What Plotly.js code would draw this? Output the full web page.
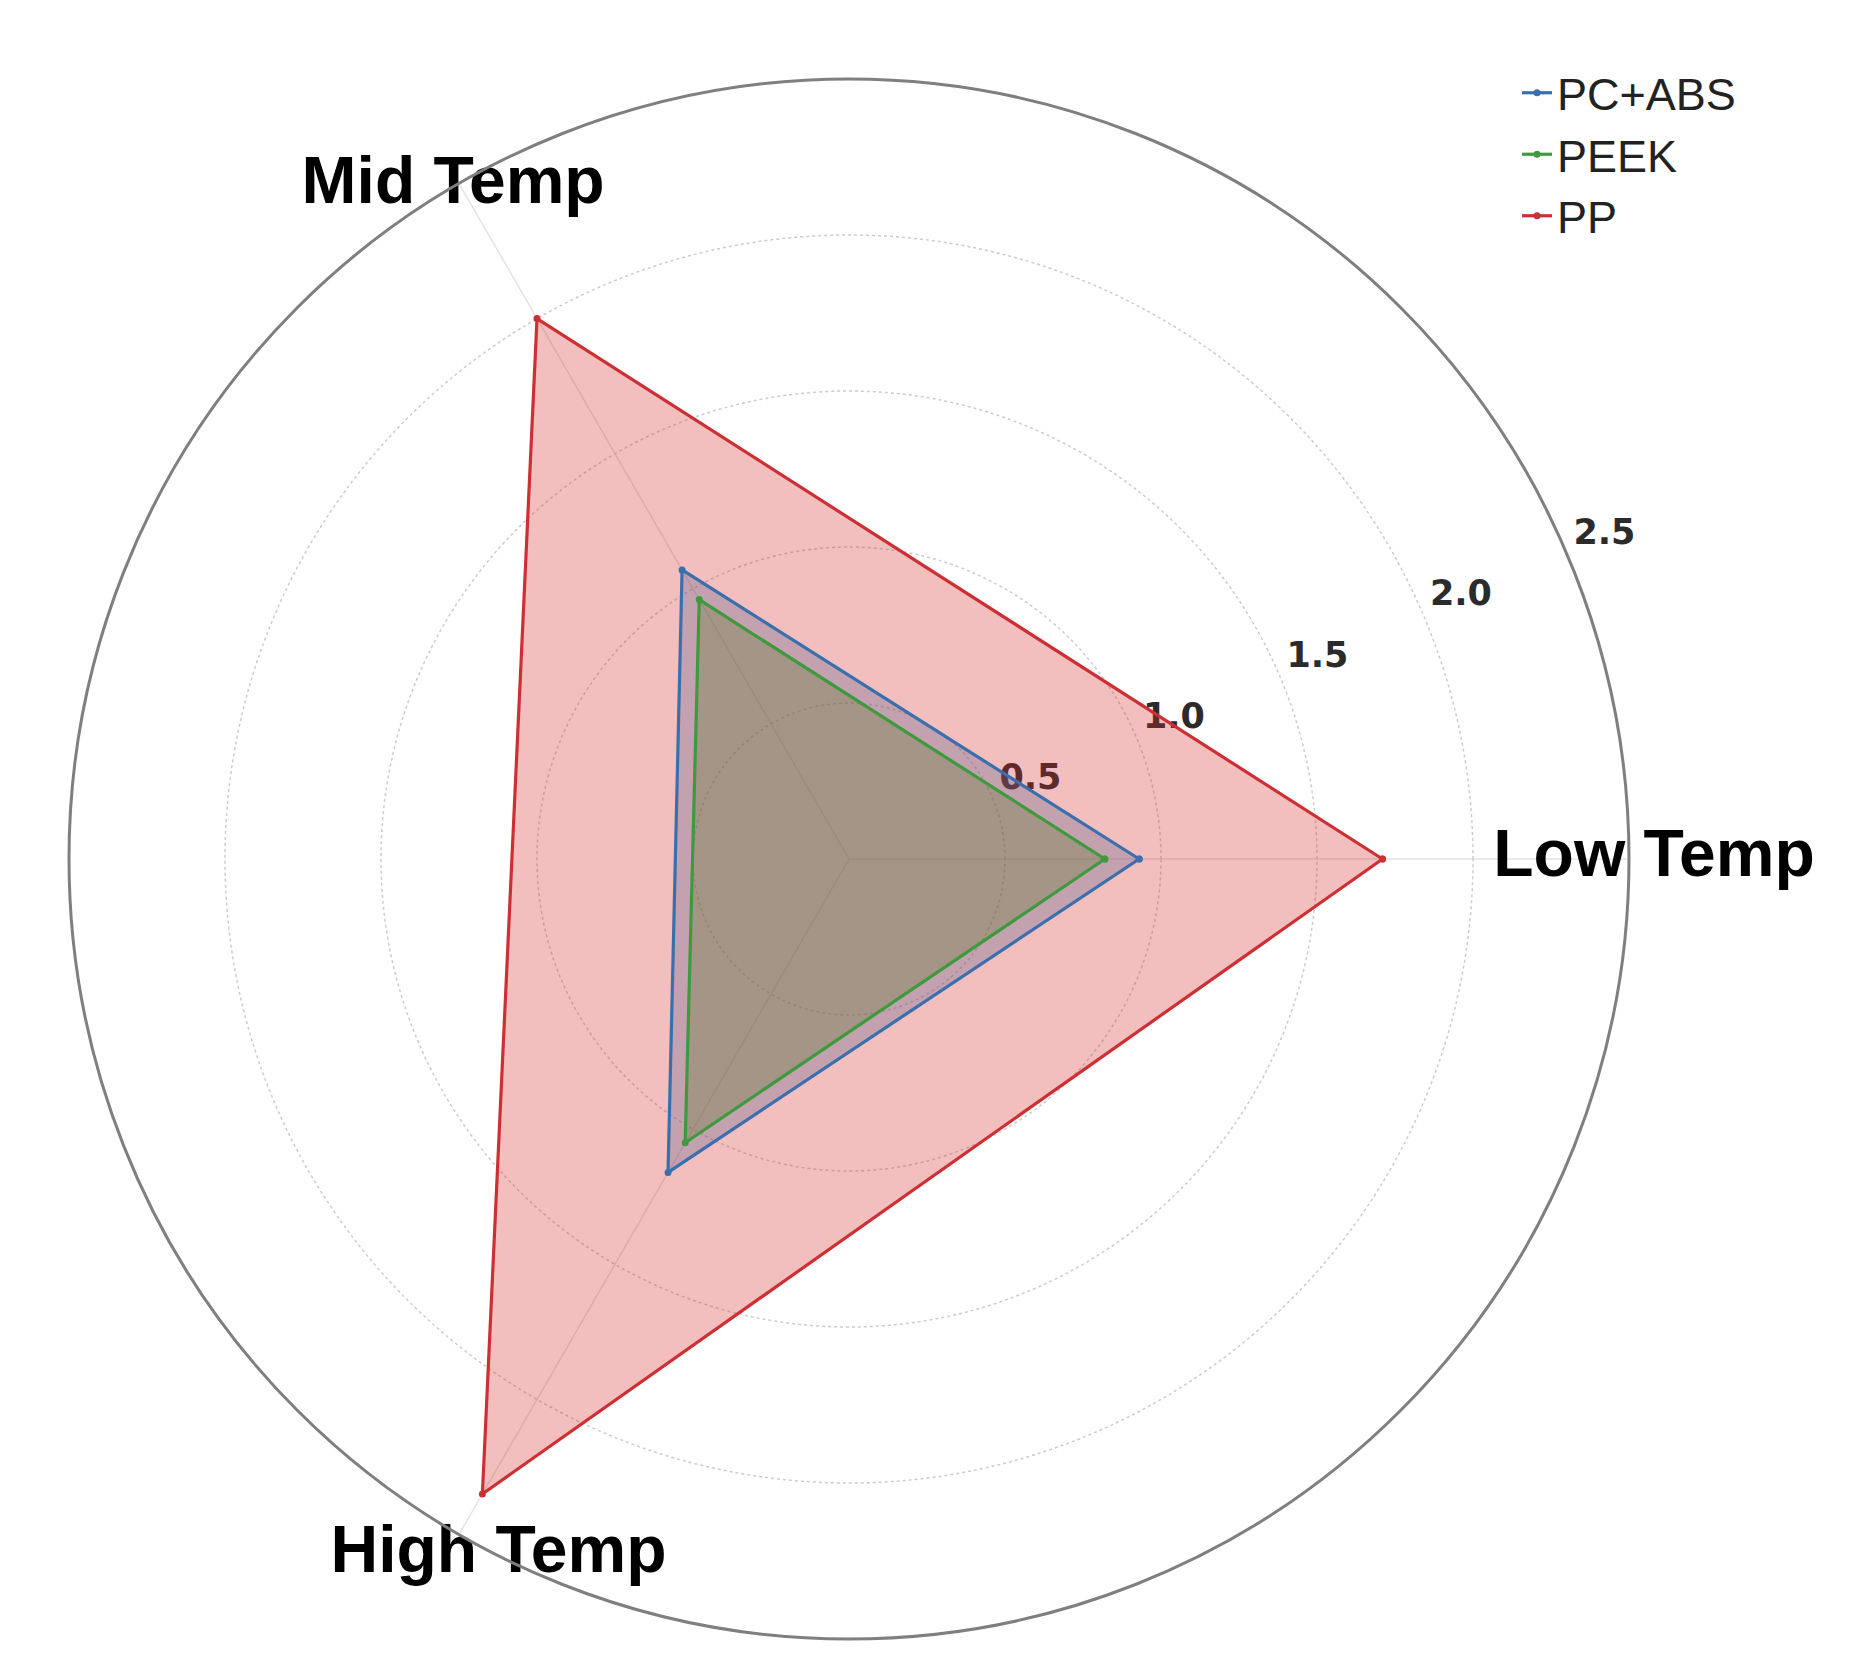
<!DOCTYPE html>
<html>
<head>
<meta charset="utf-8">
<script src="https://cdn.plot.ly/plotly-3.0.1.min.js"></script>
<style>html,body{margin:0;padding:0;background:#fff;}#chart{width:1861px;height:1675px;}</style>
</head>
<body>
<div id="chart"></div>
<script>
// ---- data ----
const categories = ['Low Temp', 'Mid Temp', 'High Temp'];
const seriesNames = ['PC+ABS', 'PEEK', 'PP'];
const pcAbsValues = [0.93, 1.07, 1.16];
const peekValues = [0.82, 0.96, 1.05];
const ppValues = [1.71, 2.00, 2.35];
const radialTickVals = [0.5, 1.0, 1.5, 2.0, 2.5];
const radialTickText = ['0.5', '1.0', '1.5', '2.0', '2.5'];

// ---- styles / placement ----
const lineColors = ['#3a6fae', '#3f9a3f', '#cc3034'];
const fillColors = ['rgba(31,119,180,0.3)', 'rgba(44,160,44,0.3)', 'rgba(214,39,40,0.3)'];
const R_MAX = 2.5;
const TICK_ANGLE = 23.1;       // degrees, where the radial tick labels sit
const CAT_LABEL_R = [2.065, 2.5, 2.5];
const CAT_LABEL_DTHETA = [0, 0.5, 3.3];
const CAT_LABEL_POS = ['middle right', 'middle center', 'middle center'];

const step = 360 / categories.length;
const catAngles = categories.map((c, i) => i * step);
const closeLoop = arr => arr.concat([arr[0]]);

const seriesValues = [pcAbsValues, peekValues, ppValues];

const traces = [];

// radial tick labels (drawn first so the data sits above them)
traces.push({
  type: 'scatterpolar',
  mode: 'text',
  r: radialTickVals,
  theta: radialTickVals.map(() => TICK_ANGLE),
  text: radialTickText,
  texttemplate: '\u2009%{text}',
  textposition: 'top right',
  textfont: {family: 'DejaVu Sans', size: 35, color: '#2b2b2b', weight: 'bold'},
  cliponaxis: false,
  showlegend: false,
  hoverinfo: 'skip'
});

// filled areas
seriesValues.forEach((vals, i) => {
  traces.push({
    type: 'scatterpolar',
    mode: 'none',
    r: closeLoop(vals),
    theta: closeLoop(catAngles),
    fill: 'toself',
    fillcolor: fillColors[i],
    showlegend: false,
    hoverinfo: 'skip'
  });
});

// outlines with markers
seriesValues.forEach((vals, i) => {
  traces.push({
    type: 'scatterpolar',
    mode: 'lines+markers',
    name: seriesNames[i],
    r: closeLoop(vals),
    theta: closeLoop(catAngles),
    line: {color: lineColors[i], width: 3.2},
    marker: {color: lineColors[i], size: 7},
    cliponaxis: false
  });
});

// category labels
traces.push({
  type: 'scatterpolar',
  mode: 'text',
  r: CAT_LABEL_R,
  theta: catAngles.map((a, i) => a + CAT_LABEL_DTHETA[i]),
  text: categories,
  textposition: CAT_LABEL_POS,
  textfont: {family: 'Liberation Sans, Arial, sans-serif', size: 66, color: '#000', weight: 'bold'},
  cliponaxis: false,
  showlegend: false,
  hoverinfo: 'skip'
});

const W = 1861, H = 1675;
const cx = 849, cy = 859, R = 780;

const layout = {
  width: W,
  height: H,
  margin: {l: 0, r: 0, t: 0, b: 0},
  paper_bgcolor: '#ffffff',
  showlegend: true,
  legend: {
    x: 1517 / W, xanchor: 'left',
    y: 1 - 57 / H, yanchor: 'top',
    font: {family: 'Liberation Sans, Arial, sans-serif', size: 45, color: '#222'},
    bgcolor: 'rgba(255,255,255,0)',
    borderwidth: 0
  },
  polar: {
    domain: {
      x: [(cx - R) / W, (cx + R) / W],
      y: [(H - cy - R) / H, (H - cy + R) / H]
    },
    bgcolor: '#ffffff',
    radialaxis: {
      range: [0, R_MAX],
      tickvals: radialTickVals,
      showticklabels: false,
      ticks: '',
      showline: false,
      showgrid: true,
      gridcolor: '#cccccc',
      griddash: 'dot',
      gridwidth: 1.5,
      angle: TICK_ANGLE
    },
    angularaxis: {
      thetaunit: 'degrees',
      direction: 'counterclockwise',
      rotation: 0,
      tickvals: catAngles,
      showticklabels: false,
      ticks: '',
      showgrid: true,
      gridcolor: '#e3e3e3',
      gridwidth: 1.5,
      showline: true,
      linecolor: '#7f7f7f',
      linewidth: 3
    }
  }
};

Plotly.newPlot('chart', traces, layout, {displayModeBar: false, staticPlot: true});
</script>
</body>
</html>
